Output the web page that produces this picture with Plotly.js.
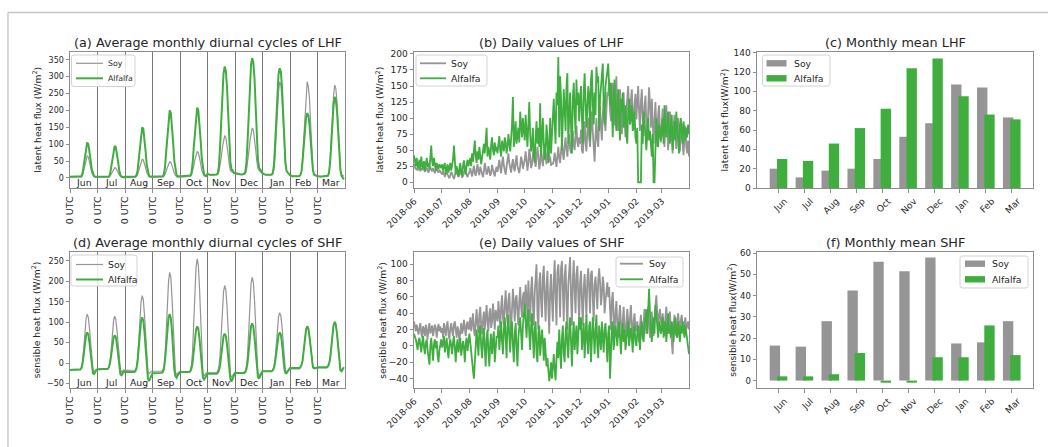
<!DOCTYPE html>
<html><head><meta charset="utf-8">
<script src="https://cdn.plot.ly/plotly-3.0.1.min.js"></script>
<style>html,body{margin:0;padding:0;background:#fff}#chart{width:1048px;height:447px}</style>
</head><body><div id="chart"></div>
<script>
// ---------------- data ----------------
const months = ['Jun','Jul','Aug','Sep','Oct','Nov','Dec','Jan','Feb','Mar'];
const monthKeys = ['2018-06','2018-07','2018-08','2018-09','2018-10','2018-11','2018-12','2019-01','2019-02','2019-03'];
const seriesNames = ['Soy','Alfalfa'];
const utcTickText = '0 UTC';

// (a) average monthly diurnal cycles of LHF, hourly 0..23 UTC
const lhfSoyDiurnal = [
 [2,2,2,2,2,2,2,2,2,2,3,8,22,40,56,65,62,50,32,15,6,3,2,2],
 [1,1,1,1,1,1,1,1,1,1,2,5,12,20,27,30,29,24,16,8,3,2,1,1],
 [2,2,2,2,2,2,2,2,2,2,4,10,22,36,48,55,53,44,30,15,6,3,2,2],
 [2,2,2,2,2,2,2,2,2,3,5,11,22,33,43,48,46,38,26,13,6,3,2,2],
 [4,3,3,3,3,3,3,3,3,4,8,18,35,54,70,78,75,62,43,22,10,6,5,4],
 [12,10,9,8,8,8,8,8,8,10,18,35,62,90,112,125,120,100,70,40,22,18,16,14],
 [14,12,11,10,10,10,10,10,10,12,22,42,75,108,135,148,142,118,85,50,28,22,18,16],
 [12,10,9,8,8,8,8,8,9,12,25,65,130,200,255,285,275,235,165,90,40,20,15,13],
 [8,6,5,5,5,5,5,5,5,8,20,60,125,195,255,285,270,235,160,80,30,12,8,8],
 [6,5,4,4,4,4,4,4,4,6,15,50,115,185,245,275,265,225,155,75,25,10,6,5]
];
const lhfAlfDiurnal = [
 [3,3,3,3,3,3,3,3,3,3,5,15,38,68,92,105,100,80,52,25,10,5,3,3],
 [2,2,2,2,2,2,2,2,2,2,4,12,32,60,83,95,91,73,47,22,8,4,2,2],
 [3,3,3,3,3,3,3,3,3,4,8,22,55,95,130,150,145,118,78,38,15,6,4,3],
 [4,4,4,4,4,4,4,4,4,5,12,35,80,130,175,200,192,158,105,52,20,8,5,4],
 [5,5,5,5,5,5,5,5,5,7,15,42,90,140,185,208,200,165,112,58,24,10,7,6],
 [12,10,9,9,9,9,9,9,10,14,35,95,180,260,310,330,318,270,190,105,45,25,22,15],
 [14,12,11,10,10,10,10,10,12,18,45,110,200,285,335,355,342,295,210,120,55,30,24,18],
 [14,12,10,9,9,9,9,9,10,15,38,100,185,260,308,325,315,270,190,105,45,20,14,12],
 [8,6,5,5,5,5,5,5,5,8,18,50,100,148,180,192,185,158,110,58,22,10,7,6],
 [5,4,4,4,4,4,4,4,4,6,14,45,100,160,215,240,232,198,135,68,22,6,0,-5]
];
// (d) average monthly diurnal cycles of SHF
const shfSoyDiurnal = [
 [-16,-16,-16,-16,-16,-16,-16,-16,-16,-15,-10,5,35,75,108,120,112,85,45,5,-15,-20,-18,-17],
 [-16,-16,-16,-16,-16,-16,-16,-16,-16,-15,-10,5,33,72,104,115,107,80,42,4,-16,-22,-19,-17],
 [-18,-18,-18,-18,-18,-18,-18,-18,-18,-17,-10,12,55,110,150,165,155,118,65,12,-20,-26,-23,-20],
 [-20,-20,-20,-20,-20,-20,-20,-20,-20,-18,-8,20,80,150,200,222,210,160,90,20,-22,-28,-25,-22],
 [-22,-22,-22,-22,-22,-22,-22,-22,-21,-18,-5,30,100,180,235,255,240,185,105,25,-25,-32,-28,-24],
 [-24,-24,-24,-24,-24,-24,-24,-24,-23,-20,-8,20,75,135,175,190,180,140,80,18,-28,-35,-30,-26],
 [-24,-24,-24,-24,-24,-24,-24,-24,-23,-20,-8,22,82,150,195,210,198,155,88,20,-25,-30,-27,-24],
 [-20,-20,-20,-20,-20,-20,-20,-20,-19,-16,-8,10,45,85,113,123,116,90,50,10,-18,-22,-20,-18],
 [-14,-14,-14,-14,-14,-14,-14,-14,-14,-12,-6,6,30,60,82,90,85,66,36,6,-12,-14,-13,-13],
 [-12,-12,-12,-12,-12,-12,-12,-12,-12,-10,-4,8,36,70,94,102,96,74,40,6,-16,-18,-14,-10]
];
const shfAlfDiurnal = [
 [-17,-17,-17,-17,-17,-17,-17,-17,-17,-16,-12,0,22,48,68,75,70,50,20,-10,-25,-27,-20,-17],
 [-15,-15,-15,-15,-15,-15,-15,-15,-15,-14,-10,0,20,44,62,68,63,45,18,-12,-28,-30,-25,-20],
 [-22,-22,-22,-22,-22,-22,-22,-22,-22,-20,-14,5,38,80,104,112,104,75,30,-15,-38,-44,-38,-30],
 [-25,-25,-25,-25,-25,-25,-25,-25,-24,-22,-14,8,45,88,112,120,110,78,30,-15,-32,-36,-30,-26],
 [-22,-22,-22,-22,-22,-22,-22,-22,-22,-20,-14,2,30,62,82,90,84,60,22,-15,-35,-40,-35,-28],
 [-26,-26,-26,-26,-26,-26,-26,-26,-26,-24,-18,-5,20,48,66,72,66,46,12,-20,-40,-45,-38,-30],
 [-24,-24,-24,-24,-24,-24,-24,-24,-24,-22,-15,2,32,68,90,97,90,64,24,-15,-34,-38,-32,-26],
 [-20,-20,-20,-20,-20,-20,-20,-20,-20,-18,-12,2,25,50,68,75,70,50,18,-12,-24,-25,-20,-16],
 [-12,-12,-12,-12,-12,-12,-12,-12,-12,-10,-5,6,30,60,82,90,85,65,34,5,-10,-12,-12,-12],
 [-10,-10,-10,-10,-10,-10,-10,-10,-10,-8,-2,10,38,70,92,100,94,72,38,4,-18,-20,-14,-10]
];

// (b) daily LHF, one list per month
const lhfSoyDaily = [
 [28,24,20,22,18,25,20,17,22,19,24,21,16,20,23,18,15,21,24,19,17,22,18,14,20,23,17,15,19,16],
 [14,12,18,10,8,15,20,12,9,6,11,16,13,8,5,10,17,22,14,9,12,18,15,7,10,14,20,16,11,8,13],
 [15,22,12,9,18,26,14,10,20,28,16,11,24,19,13,8,17,30,22,12,15,25,18,10,14,27,20,13,9,19,24],
 [16,28,35,22,14,30,40,26,18,12,24,38,45,30,20,15,28,36,22,17,32,42,25,19,14,26,40,33,21,28],
 [35,48,26,18,30,52,40,22,28,45,58,34,24,38,55,42,20,30,50,36,25,42,60,38,28,46,55,32,40,26,30],
 [28,34,46,30,24,40,55,38,30,48,62,44,35,58,70,50,40,62,75,52,45,68,80,58,50,72,88,62,55,70],
 [60,82,50,45,75,95,62,48,80,100,70,55,88,110,78,40,32,72,100,66,55,95,118,85,65,105,128,95,80,112,140],
 [135,160,112,95,140,155,118,88,130,165,100,80,125,145,108,75,118,140,95,70,112,135,150,110,90,128,145,105,82,120,138],
 [98,140,150,110,80,125,145,102,72,118,135,92,65,110,148,120,85,130,100,60,95,125,88,55,105,120,80,62],
 [90,115,72,55,98,120,85,50,78,110,95,62,45,88,105,70,52,82,100,65,48,78,92,60,42,72,88,55,45,65,40]
];
const lhfAlfDaily = [
 [42,30,25,38,22,28,35,20,40,26,22,33,18,28,38,24,30,20,45,57,32,25,38,22,18,30,26,20,28,24],
 [22,28,18,25,30,12,20,28,15,22,30,18,24,35,57,20,12,25,18,8,22,30,15,10,26,34,20,12,28,35,25],
 [30,38,25,45,32,50,65,40,30,48,35,55,42,28,38,52,60,45,62,85,40,55,48,35,58,70,50,42,62,48,55],
 [45,60,72,50,40,65,58,48,70,62,45,55,75,60,48,68,90,133,55,70,95,60,75,85,62,110,90,70,100,80],
 [65,105,80,55,90,125,75,48,60,85,40,30,70,95,60,85,55,123,40,75,100,60,35,50,90,70,30,55,100,45,80],
 [110,130,90,60,140,120,195,70,165,130,50,100,145,115,80,150,170,60,125,140,90,45,130,155,110,75,160,120,140,95],
 [130,150,100,60,140,170,125,85,115,150,135,65,160,175,120,90,140,105,180,155,165,80,130,150,170,185,120,90,150,160,175],
 [185,150,120,155,110,70,135,160,100,80,125,145,95,65,130,110,140,85,100,120,75,60,115,130,90,100,120,80,95,110,70],
 [60,85,0,0,0,0,90,60,110,95,75,50,85,100,65,80,60,40,75,0,0,85,100,70,55,90,80,65],
 [80,100,60,120,85,70,95,110,75,60,90,105,50,80,95,65,110,85,70,45,90,100,75,60,95,80,65,85,70,90,75]
];
// (e) daily SHF
const shfSoyDaily = [
 [30,24,18,26,20,14,22,28,16,10,24,20,12,26,18,8,22,28,15,20,25,12,18,26,22,10,20,27,18,24],
 [16,22,10,28,20,12,25,30,14,8,22,28,18,12,26,30,20,10,24,18,6,22,28,15,20,32,18,12,26,30,20],
 [22,35,18,28,40,20,12,30,45,26,16,38,48,24,14,32,42,20,35,50,28,18,40,46,22,30,52,34,20,44,38],
 [30,55,40,22,48,62,35,25,50,68,42,28,56,65,38,20,45,70,52,30,58,62,40,25,55,72,48,35,60,66],
 [45,75,58,35,80,62,30,70,85,50,25,65,95,100,40,20,78,90,55,35,85,98,60,30,72,92,48,15,68,88,55],
 [30,80,105,60,25,90,100,75,35,95,104,70,30,85,100,55,20,75,95,109,60,25,80,105,68,40,88,98,62,30],
 [78,92,55,25,70,88,60,35,82,95,70,40,88,92,58,30,75,85,65,45,80,95,78,50,62,85,75,40,55,70,78],
 [60,72,45,20,55,66,35,15,40,55,25,10,35,50,28,8,30,48,22,5,28,45,30,12,35,50,25,10,30,40,22],
 [18,30,12,5,25,38,20,8,28,45,30,15,35,48,25,10,30,42,20,12,35,50,62,40,20,38,45,30],
 [25,40,30,12,35,48,28,15,30,42,20,8,-10,25,38,22,12,30,40,28,18,32,38,25,15,28,35,20,25,30,20]
];
const shfAlfDaily = [
 [15,12,8,2,-5,6,10,0,-8,5,12,-2,-10,4,8,-5,-15,-23,0,10,-5,-18,2,8,-3,6,-12,-20,-5,4],
 [8,-2,5,12,-8,3,10,-5,-15,2,8,0,-10,5,12,-3,-20,0,8,-8,2,10,-12,-5,6,-2,-20,4,10,-6,2],
 [15,5,-10,-20,-30,-40,-15,10,20,5,-12,18,25,0,-15,8,22,-5,-25,10,20,-8,-25,5,15,-10,0,18,-20,5,12],
 [10,25,-5,15,30,5,-10,20,35,10,-15,25,38,12,-8,22,30,0,-20,15,28,-5,-25,10,20,35,15,-5,25,40],
 [52,30,10,35,45,15,-5,25,40,10,-15,20,30,-10,-20,15,25,-12,0,20,5,-18,10,-5,-25,-15,-30,-43,-35,-20,-40],
 [-25,-10,-30,-42,-15,5,-15,20,-5,-28,10,25,-10,-20,15,30,0,-15,20,35,5,-25,10,30,-5,15,25,-10,20,35],
 [20,35,-5,10,28,-15,15,38,5,-10,25,30,-20,8,35,15,-10,20,38,0,-15,25,10,-5,30,15,-8,20,28,5,-20],
 [15,25,-40,5,20,30,-5,10,25,15,0,20,30,10,-10,15,28,5,20,-5,10,25,30,0,15,22,10,-8,18,25,5],
 [0,15,25,10,-5,20,30,12,5,25,35,45,15,60,70,40,20,5,25,35,15,50,40,20,10,30,25,15],
 [20,35,10,25,30,5,20,40,15,25,10,30,20,5,25,35,15,10,30,20,5,25,15,30,20,10,25,15,5,0,-10]
];

// (c), (f) monthly means
const lhfSoyMonthly = [20,11,18,20,30,53,67,107,104,73];
const lhfAlfMonthly = [30,28,46,62,82,124,134,95,76,71];
const shfSoyMonthly = [16.5,16,28,42.5,56,51.5,58,17.5,18,28];
const shfAlfMonthly = [2,2,3,13,-1,-1,11,11,26,12];

// ---------------- helpers ----------------
const W = 1048, H = 447;
const px = v => v / W, py = v => 1 - v / H;
const FONT = 'DejaVu Sans';
const TXT = '#262626';
const GRAY = '#959595', GREEN = '#3fae3f';
const SPINE = '#8c8c8c';

function flatDiurnal(arr){ const x=[],y=[]; arr.forEach((m,i)=>m.forEach((v,h)=>{x.push(i*24+h);y.push(v);})); return {x,y}; }
function flatDaily(arr){ const x=[],y=[]; arr.forEach((m,i)=>m.forEach((v,d)=>{x.push(monthKeys[i]+'-'+String(d+1).padStart(2,'0'));y.push(v);})); return {x,y}; }

const traces = [];
function addLine(obj, ax, color, width){
  traces.push({type:'scatter',mode:'lines',x:obj.x,y:obj.y,xaxis:'x'+ax,yaxis:'y'+ax,
    line:{color:color,width:width},showlegend:false,hoverinfo:'skip'});
}
const a1=flatDiurnal(lhfSoyDiurnal), a2=flatDiurnal(lhfAlfDiurnal);
addLine(a1,'',GRAY,1.2); addLine(a2,'',GREEN,2);
const b1=flatDaily(lhfSoyDaily), b2=flatDaily(lhfAlfDaily);
addLine(b1,'2',GRAY,1.8); addLine(b2,'2',GREEN,1.8);
const d1=flatDiurnal(shfSoyDiurnal), d2=flatDiurnal(shfAlfDiurnal);
addLine(d1,'4',GRAY,1.2); addLine(d2,'4',GREEN,2);
const e1=flatDaily(shfSoyDaily), e2=flatDaily(shfAlfDaily);
addLine(e1,'5',GRAY,1.8); addLine(e2,'5',GREEN,1.8);
function addBars(vals, ax, color, offset){
  traces.push({type:'bar',x:months,y:vals,xaxis:'x'+ax,yaxis:'y'+ax,width:0.4,offset:offset,
    marker:{color:color,line:{width:0}},showlegend:false,hoverinfo:'skip'});
}
addBars(lhfSoyMonthly,'3',GRAY,-0.34); addBars(lhfAlfMonthly,'3',GREEN,-0.06);
addBars(shfSoyMonthly,'6',GRAY,-0.34); addBars(shfAlfMonthly,'6',GREEN,-0.06);

const boxes = {a:[70,52,345,188], b:[414,52,689,188], c:[757,52,1033,188],
               d:[70,252,345,388], e:[414,252,689,388], f:[757,252,1033,388]};
function baseAxis(){ return {showline:true,mirror:true,linecolor:SPINE,linewidth:1,ticks:'outside',ticklen:3.5,
   tickwidth:1,tickcolor:SPINE,zeroline:false,showgrid:false,fixedrange:true}; }
function xdom(b){return [px(b[0]),px(b[2])];}
function ydom(b){return [py(b[3]),py(b[1])];}

const utcVals = months.map((m,i)=>i*24);
const utcText = months.map(()=>utcTickText);
function diurnalX(b){ return Object.assign(baseAxis(),{domain:xdom(b),range:[0,240],tickmode:'array',tickvals:utcVals,ticktext:utcText,
   tickangle:-90,showgrid:true,gridcolor:'#686868',gridwidth:0.9,tickfont:{family:FONT,size:9.5,color:TXT}}); }
function dateX(b){ return Object.assign(baseAxis(),{domain:xdom(b),type:'date',range:['2018-06-01','2019-03-31'],dtick:'M1',
   tick0:'2018-06-01',tickformat:'%Y-%m',tickangle:-45,tickfont:{family:FONT,size:9,color:TXT}}); }
function catX(b){ return Object.assign(baseAxis(),{domain:xdom(b),type:'category',range:[-0.83,9.82],tickangle:-45,
   ticklabelshift:6,tickfont:{family:FONT,size:9,color:TXT}}); }
function yAx(b,range,dtick,fs){ return Object.assign(baseAxis(),{domain:ydom(b),range:range,dtick:dtick,tick0:0,
   tickfont:{family:FONT,size:fs,color:TXT}}); }

const layout = {
  width:W,height:H,margin:{l:0,r:0,t:0,b:0},paper_bgcolor:'#fff',plot_bgcolor:'#fff',
  barmode:'overlay',showlegend:false,font:{family:FONT,color:TXT},
  xaxis: Object.assign(diurnalX(boxes.a),{anchor:'y'}),
  yaxis: Object.assign(yAx(boxes.a,[-30,373],50,8),{anchor:'x'}),
  xaxis2: Object.assign(dateX(boxes.b),{anchor:'y2'}),
  yaxis2: Object.assign(yAx(boxes.b,[-9,203],25,9),{anchor:'x2'}),
  xaxis3: Object.assign(catX(boxes.c),{anchor:'y3'}),
  yaxis3: Object.assign(yAx(boxes.c,[0,140.7],20,9),{anchor:'x3'}),
  xaxis4: Object.assign(diurnalX(boxes.d),{anchor:'y4'}),
  yaxis4: Object.assign(yAx(boxes.d,[-61,272],50,8),{anchor:'x4'}),
  xaxis5: Object.assign(dateX(boxes.e),{anchor:'y5'}),
  yaxis5: Object.assign(yAx(boxes.e,[-51.5,115],20,9),{anchor:'x5'}),
  xaxis6: Object.assign(catX(boxes.f),{anchor:'y6'}),
  yaxis6: Object.assign(yAx(boxes.f,[-3.5,60.6],10,8.5),{anchor:'x6'}),
  shapes:[], annotations:[]
};

// figure frame
layout.shapes.push({type:'line',xref:'paper',yref:'paper',x0:px(8),x1:1,y0:py(12.5),y1:py(12.5),line:{color:'#c4c4c4',width:1.3}});
layout.shapes.push({type:'line',xref:'paper',yref:'paper',x0:px(8),x1:px(8),y0:py(12.5),y1:0,line:{color:'#c4c4c4',width:1.3}});

// titles
const titles = [
 ['(a) Average monthly diurnal cycles of LHF', boxes.a, 42.3],
 ['(b) Daily values of LHF', boxes.b, 42.3],
 ['(c) Monthly mean LHF', boxes.c, 42.3],
 ['(d) Average monthly diurnal cycles of SHF', boxes.d, 242.7],
 ['(e) Daily values of SHF', boxes.e, 242.7],
 ['(f) Monthly mean SHF', boxes.f, 242.7]
];
titles.forEach(t=>layout.annotations.push({text:t[0],xref:'paper',yref:'paper',x:px((t[1][0]+t[1][2])/2),y:py(t[2]),
  xanchor:'center',yanchor:'middle',showarrow:false,font:{family:FONT,size:12.8,color:TXT}}));

// y titles
const ytitles = [
 ['latent heat flux (W/m<sup>2</sup>)', 36.7, boxes.a],
 ['latent heat flux (W/m<sup>2</sup>)', 379.5, boxes.b],
 ['latent heat flux(W/m<sup>2</sup>)', 724.5, boxes.c],
 ['sensible heat flux (W/m<sup>2</sup>)', 36.2, boxes.d],
 ['sensible heat flux (W/m<sup>2</sup>)', 381.7, boxes.e],
 ['sensible heat flux(W/m<sup>2</sup>)', 731.7, boxes.f]
];
ytitles.forEach(t=>layout.annotations.push({text:t[0],xref:'paper',yref:'paper',x:px(t[1]),y:py((t[2][1]+t[2][3])/2),
  xanchor:'center',yanchor:'middle',textangle:-90,showarrow:false,font:{family:FONT,size:9.2,color:TXT}}));

// month labels inside diurnal panels
[['x','y'],['x4','y4']].forEach(ax=>{
  months.forEach((m,i)=>layout.annotations.push({text:m,xref:ax[0],yref:ax[1]+' domain',x:i*24+12,y:0.04,
    xanchor:'center',yanchor:'middle',showarrow:false,font:{family:FONT,size:9.3,color:TXT}}));
});

// legends (drawn)
function rrect(x0,y0,x1,y1,r){
  const X=v=>px(v).toFixed(6), Y=v=>py(v).toFixed(6);
  return `M${X(x0+r)},${Y(y0)} L${X(x1-r)},${Y(y0)} Q${X(x1)},${Y(y0)} ${X(x1)},${Y(y0+r)} L${X(x1)},${Y(y1-r)} Q${X(x1)},${Y(y1)} ${X(x1-r)},${Y(y1)} L${X(x0+r)},${Y(y1)} Q${X(x0)},${Y(y1)} ${X(x0)},${Y(y1-r)} L${X(x0)},${Y(y0+r)} Q${X(x0)},${Y(y0)} ${X(x0+r)},${Y(y0)} Z`;
}
function legend(cfg){
  layout.shapes.push({type:'path',xref:'paper',yref:'paper',layer:'above',path:rrect(cfg.box[0],cfg.box[1],cfg.box[2],cfg.box[3],2.5),
    line:{color:'#d2d2d2',width:1},fillcolor:'rgba(255,255,255,0.85)'});
  cfg.items.forEach((it,k)=>{
    const yy = cfg.rows[k];
    if(cfg.kind==='line'){
      layout.shapes.push({type:'line',xref:'paper',yref:'paper',layer:'above',x0:px(cfg.sx[0]),x1:px(cfg.sx[1]),y0:py(yy),y1:py(yy),
        line:{color:it.color,width:it.width}});
    } else {
      layout.shapes.push({type:'rect',xref:'paper',yref:'paper',layer:'above',x0:px(cfg.sx[0]),x1:px(cfg.sx[1]),y0:py(yy-3.2),y1:py(yy+3.2),
        line:{width:0},fillcolor:it.color});
    }
    layout.annotations.push({text:it.name,xref:'paper',yref:'paper',x:px(cfg.tx),y:py(yy),xanchor:'left',yanchor:'middle',
      showarrow:false,font:{family:FONT,size:cfg.fs,color:TXT}});
  });
}
const thinThick = [{name:seriesNames[0],color:GRAY,width:1.2},{name:seriesNames[1],color:GREEN,width:2}];
const both = [{name:seriesNames[0],color:GRAY,width:1.8},{name:seriesNames[1],color:GREEN,width:1.8}];
legend({box:[71.5,55,135,86.5],rows:[63.3,78.3],sx:[76,103],tx:105.5,fs:7.8,kind:'line',items:thinThick});
legend({box:[416,55,487,86],rows:[63.3,78.3],sx:[420,446],tx:449,fs:9.3,kind:'line',items:both});
legend({box:[762.5,55,830,86],rows:[63.3,78.3],sx:[766.5,786.5],tx:792,fs:9.3,kind:'bar',items:both});
legend({box:[71,255,137,286],rows:[264.5,279.5],sx:[76,103],tx:106,fs:9.3,kind:'line',items:thinThick});
legend({box:[616,257,683,287],rows:[263.7,279.3],sx:[620,643],tx:647,fs:9.3,kind:'line',items:both});
legend({box:[960,256,1028,288],rows:[263.7,279.3],sx:[965,985],tx:990,fs:9.3,kind:'bar',items:both});

Plotly.newPlot('chart', traces, layout, {staticPlot:true,displayModeBar:false});
</script></body></html>
